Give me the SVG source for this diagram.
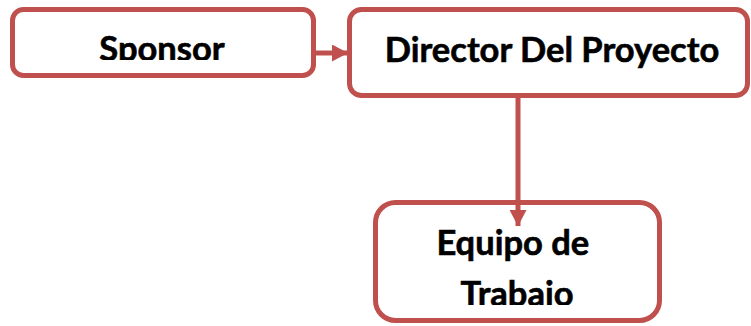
<svg xmlns="http://www.w3.org/2000/svg" width="751" height="326" viewBox="0 0 751 326">
  <style>
    .box { fill: #ffffff; stroke: #C0504D; stroke-width: 5; }
    .label { font-family: Lato, "Open Sans", sans-serif; font-weight: bold; font-size: 34.5px; fill: #000000; stroke: #000000; stroke-width: 0.6; text-anchor: middle; }
    .link { stroke: #C0504D; stroke-width: 5; fill: none; }
  </style>
  <defs>
    <marker id="head" markerWidth="3.2" markerHeight="3.4" refX="3.2" refY="1.7" orient="auto" markerUnits="strokeWidth">
      <path d="M0,0 L3.2,1.7 L0,3.4 Z" fill="#C0504D"/>
    </marker>
    <clipPath id="clipSponsor"><rect x="15" y="12" width="296" height="48"/></clipPath>
    <clipPath id="clipEquipo"><rect x="378" y="205" width="279" height="100"/></clipPath>
  </defs>
  <rect width="751" height="326" fill="#ffffff"/>

  <g id="sponsor">
    <rect class="box" x="12.5" y="9.5" width="301" height="66" rx="11"/>
    <text class="label" x="162" y="61" clip-path="url(#clipSponsor)">Sponsor</text>
  </g>

  <g id="director">
    <rect class="box" x="349.5" y="9.5" width="398" height="86" rx="12"/>
    <text class="label" x="552" y="62">Director Del Proyecto</text>
  </g>

  <g id="equipo">
    <rect class="box" x="375.5" y="202.5" width="284" height="118" rx="20"/>
    <text class="label" clip-path="url(#clipEquipo)">
      <tspan x="517" y="255">Equipo de</tspan>
      <tspan x="517" y="306">Trabajo</tspan>
    </text>
  </g>

  <g id="connectors">
    <line class="link" x1="316" y1="53" x2="348" y2="53" marker-end="url(#head)"/>
    <line class="link" x1="518" y1="97" x2="518" y2="226" marker-end="url(#head)"/>
  </g>
</svg>
